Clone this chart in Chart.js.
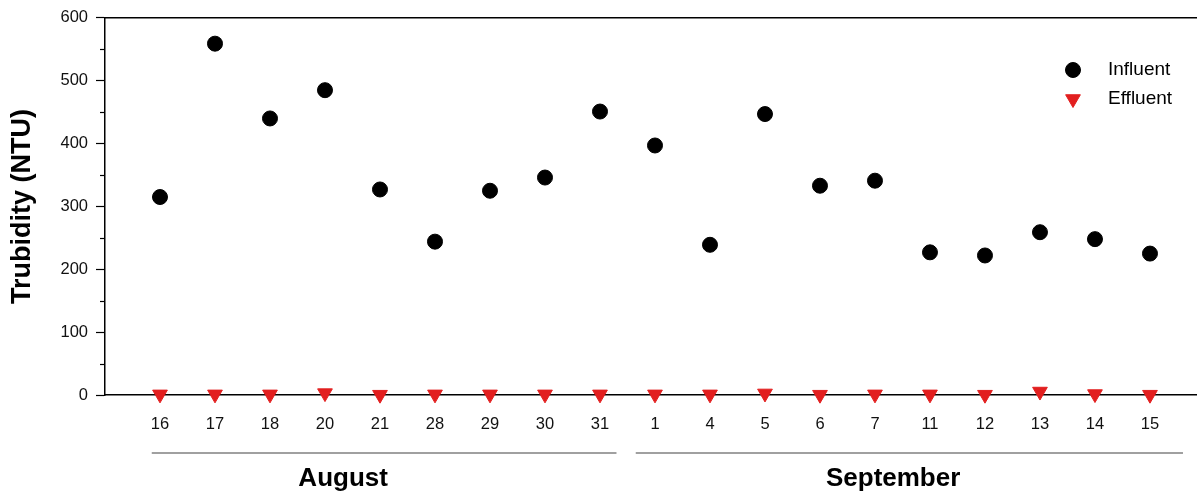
<!DOCTYPE html>
<html>
<head>
<meta charset="utf-8">
<title>Turbidity</title>
<script src="https://cdn.jsdelivr.net/npm/chart.js@4.4.1/dist/chart.umd.min.js"></script>
<style>
  html, body { margin: 0; padding: 0; background: #fff; }
  #wrap { width: 1197px; height: 493px; }
</style>
</head>
<body>
<div id="wrap"><canvas id="turbChart" width="1197" height="493"></canvas></div>
<script>
/// === DATA === ///
const days = ['16', '17', '18', '20', '21', '28', '29', '30', '31', '1', '4', '5', '6', '7', '11', '12', '13', '14', '15'];
const influent = [315, 559, 440, 485, 327, 244, 325, 346, 451, 397, 239, 447, 333, 341, 227, 222, 259, 248, 225];
const effluent = [1, 1, 1, 3, 0.5, 1, 1, 1, 1, 1, 1, 2.5, 0.5, 1, 1, 0.5, 5.5, 1.5, 0.5];
const yTicks = [0, 100, 200, 300, 400, 500, 600];
const minorTicks = [50, 150, 250, 350, 450, 550];
const months = ['August', 'September'];

// where each month bracket sits, in x-index units
const monthSpans = [
  { from: -0.15, to: 8.3, label: 3.33 },
  { from: 8.65, to: 18.6, label: 13.33 }
];

const FONT = "'Liberation Sans', Arial, sans-serif";
const RED = '#e21f1f';

const toPoints = vals => vals.map((v, i) => ({ x: i, y: v }));

// no extra side padding for labels, the plot runs to the canvas edge
const noSidePadding = s => {
  s.paddingLeft = 0;
  s.paddingRight = 0;
};

/// === PLUGINS === ///
const minorTickPlugin = {
  id: 'minorTicks',
  afterDraw(chart) {
    const { ctx, scales: { y } } = chart;
    ctx.save();
    ctx.strokeStyle = '#000';
    ctx.lineWidth = 1.2;
    minorTicks.forEach(v => {
      const py = Math.round(y.getPixelForValue(v)) + 0.5;
      ctx.beginPath();
      ctx.moveTo(y.right - 5, py);
      ctx.lineTo(y.right, py);
      ctx.stroke();
    });
    ctx.restore();
  }
};

const monthPlugin = {
  id: 'monthLabels',
  afterDraw(chart) {
    const { ctx, scales: { x } } = chart;
    ctx.save();
    ctx.strokeStyle = '#808080';
    ctx.lineWidth = 1.5;
    ctx.fillStyle = '#000';
    ctx.font = 'bold 26px ' + FONT;
    ctx.textAlign = 'center';
    ctx.textBaseline = 'middle';
    months.forEach((m, i) => {
      const span = monthSpans[i];
      ctx.beginPath();
      ctx.moveTo(x.getPixelForValue(span.from), 453);
      ctx.lineTo(x.getPixelForValue(span.to), 453);
      ctx.stroke();
      ctx.fillText(m, x.getPixelForValue(span.label), 479);
    });
    ctx.restore();
  }
};

const legendPlugin = {
  id: 'insideLegend',
  afterDraw(chart) {
    const { ctx } = chart;
    ctx.save();
    ctx.font = '19px ' + FONT;
    ctx.textBaseline = 'middle';
    chart.data.datasets.forEach((ds, i) => {
      const cy = 70 + i * 29;
      ctx.fillStyle = ds.backgroundColor;
      ctx.strokeStyle = ds.borderColor;
      Chart.helpers.drawPoint(ctx, {
        pointStyle: ds.pointStyle,
        rotation: ds.pointRotation || 0,
        radius: ds.pointRadius,
        borderWidth: 1
      }, 1073, cy);
      ctx.fillStyle = '#000';
      ctx.fillText(ds.label, 1108, cy);
    });
    ctx.restore();
  }
};

/// === CHART === ///
const xMin = -1;
const xMax = 18.855;

new Chart(document.getElementById('turbChart'), {
  type: 'scatter',
  data: {
    datasets: [
      {
        label: 'Influent',
        data: toPoints(influent),
        pointStyle: 'circle',
        pointRadius: 7.5,
        backgroundColor: '#000',
        borderColor: '#000',
        clip: false
      },
      {
        label: 'Effluent',
        data: toPoints(effluent),
        pointStyle: 'triangle',
        pointRotation: 180,
        pointRadius: 8.5,
        backgroundColor: RED,
        borderColor: RED,
        clip: false
      }
    ]
  },
  options: {
    responsive: false,
    animation: false,
    layout: { padding: 0, autoPadding: false },
    plugins: {
      legend: { display: false },
      tooltip: { enabled: false }
    },
    scales: {
      x: {
        type: 'linear',
        position: 'bottom',
        min: xMin,
        max: xMax,
        afterBuildTicks: s => { s.ticks = days.map((d, i) => ({ value: i })); },
        afterFit: s => { s.height = 98; noSidePadding(s); },
        ticks: {
          autoSkip: false,
          maxRotation: 0,
          padding: 20,
          color: '#111',
          font: { family: FONT, size: 16.5 },
          callback: v => days[v]
        },
        grid: { display: false, drawTicks: false },
        border: { display: true, color: '#000', width: 1.5 }
      },
      x2: {
        type: 'linear',
        position: 'top',
        min: xMin,
        max: xMax,
        afterFit: s => { s.height = 17; noSidePadding(s); },
        ticks: { display: false },
        grid: { display: false, drawTicks: false },
        border: { display: true, color: '#000', width: 1.5 }
      },
      y: {
        min: 0,
        max: 600,
        afterBuildTicks: s => { s.ticks = yTicks.map(v => ({ value: v })); },
        afterFit: s => { s.width = 105; },
        ticks: {
          padding: 8,
          color: '#111',
          font: { family: FONT, size: 16.5 }
        },
        grid: {
          drawOnChartArea: false,
          drawTicks: true,
          tickLength: 9,
          tickColor: '#000',
          tickWidth: 1.2
        },
        border: { display: true, color: '#000', width: 1.5 },
        title: {
          display: true,
          text: 'Trubidity (NTU)',
          color: '#000',
          padding: { top: 6, bottom: 0 },
          font: { family: FONT, size: 27, weight: 'bold', lineHeight: 1.2 }
        }
      }
    }
  },
  plugins: [minorTickPlugin, monthPlugin, legendPlugin]
});
</script>
</body>
</html>
